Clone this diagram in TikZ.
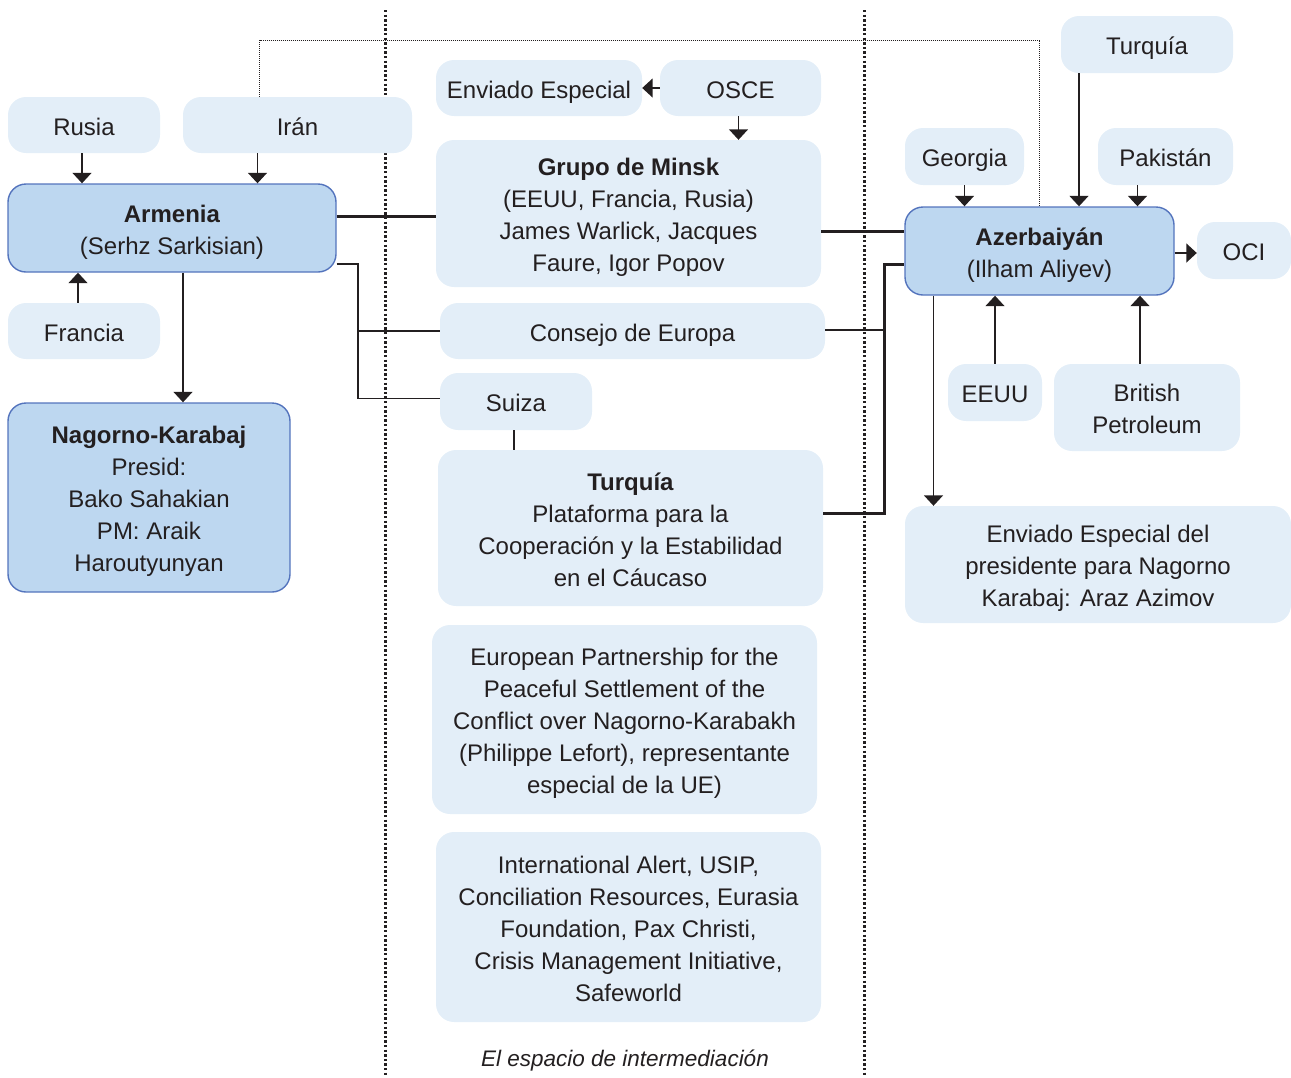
\documentclass[tikz,border=0pt]{standalone}
\usepackage{fontspec}
\setmainfont{Liberation Sans}
\usetikzlibrary{arrows.meta}
\definecolor{lightc}{RGB}{227,238,248}
\definecolor{bluec}{RGB}{189,215,240}
\definecolor{borderc}{RGB}{84,116,189}
\definecolor{textc}{RGB}{35,31,32}
\newcommand\bst{\rule[-7pt]{0pt}{34pt}}
\newcommand\est{\rule[-7pt]{0pt}{7pt}}
\tikzset{
  box/.style={fill=lightc, rounded corners=18pt, align=center, inner sep=0pt, text=textc, font=\fontsize{24}{32}\selectfont},
  bluebox/.style={box, fill=bluec, draw=borderc, line width=1.4pt},
  arr/.style={draw=textc, line width=1.5pt, -{Triangle[width=19pt,length=10.5pt]}},
  conn/.style={draw=textc, line width=1.5pt},
  thickconn/.style={draw=textc, line width=3pt},
  dotline/.style={draw=textc, line width=0.9pt, dash pattern=on 0.9pt off 1.1pt},
  sepline/.style={draw=textc, line width=3pt, dash pattern=on 2.4pt off 2.2pt},
}
\begin{document}
\begin{tikzpicture}[x=1pt,y=-1pt]
\useasboundingbox (0,0) rectangle (1291,1077);
% separators
\coordinate (s1t) at (385,10); \coordinate (s1b) at (385,1077);
\coordinate (s2t) at (864,10); \coordinate (s2b) at (864,1077);
\draw[sepline] (s1t) -- (s1b);
\draw[sepline] (s2t) -- (s2b);
% left
\node[box, minimum width=152pt, minimum height=56pt] (rusia) at (84,125) {\bst Rusia\est};
\node[box, minimum width=229pt, minimum height=56pt] (iran) at (297.5,125) {\bst Irán\est};
\node[bluebox, minimum width=328pt, minimum height=88pt] (armenia) at (172,228) {\bst\textbf{Armenia}\\(Serhz Sarkisian)\est};
\node[box, minimum width=152pt, minimum height=56pt] (francia) at (84,331) {\bst Francia\est};
\node[bluebox, minimum width=282pt, minimum height=189pt] (nk) at (149,497.5) {\bst\textbf{Nagorno-Karabaj}\\Presid:\\Bako Sahakian\\PM: Araik\\Haroutyunyan\est};
% middle
\node[box, minimum width=206pt, minimum height=56pt] (env) at (539,88) {\bst Enviado Especial\est};
\node[box, minimum width=161pt, minimum height=56pt] (osce) at (740.5,88) {\bst OSCE\est};
\node[box, minimum width=385pt, minimum height=147pt] (minsk) at (628.5,213.5) {\bst\textbf{Grupo de Minsk}\\(EEUU, Francia, Rusia)\\James Warlick, Jacques\\Faure, Igor Popov\est};
\node[box, minimum width=385pt, minimum height=56pt] (consejo) at (632.5,331) {\bst Consejo de Europa\est};
\node[box, minimum width=152pt, minimum height=57pt] (suiza) at (516,401.5) {\bst Suiza\est};
\node[box, minimum width=385pt, minimum height=156pt] (plat) at (630.5,528) {\bst\textbf{Turquía}\\Plataforma para la\\Cooperación y la Estabilidad\\en el Cáucaso\est};
\node[box, minimum width=385pt, minimum height=189pt] (epnk) at (624.5,719.5) {\bst European Partnership for the\\Peaceful Settlement of the\\Conflict over Nagorno-Karabakh\\(Philippe Lefort), representante\\especial de la UE)\est};
\node[box, minimum width=385pt, minimum height=190pt] (ia) at (628.5,927) {\bst International Alert, USIP,\\Conciliation Resources, Eurasia\\Foundation, Pax Christi,\\Crisis Management Initiative,\\Safeworld\est};
\node[text=textc, font=\fontsize{22.5}{28}\selectfont\itshape] (espacio) at (625,1061) {El espacio de intermediación};
% right
\node[box, minimum width=172pt, minimum height=57pt] (turq) at (1147,44.5) {\bst Turquía\est};
\node[box, minimum width=119pt, minimum height=57pt] (georgia) at (964.5,156.5) {\bst Georgia\est};
\node[box, minimum width=135pt, minimum height=57pt] (pak) at (1165.5,156.5) {\bst Pakistán\est};
\node[bluebox, minimum width=269pt, minimum height=88pt] (azer) at (1039.5,251) {\bst\textbf{Azerbaiyán}\\(Ilham Aliyev)\est};
\node[box, minimum width=94pt, minimum height=57pt] (oci) at (1244,250.5) {\bst OCI\est};
\node[box, minimum width=94pt, minimum height=57pt] (eeuu) at (995,392.5) {\bst EEUU\est};
\node[box, minimum width=186pt, minimum height=87pt] (bp) at (1147,407.5) {\bst British\\Petroleum\est};
\node[box, minimum width=386pt, minimum height=117pt] (envp) at (1098,564.5) {\bst Enviado Especial del\\presidente para Nagorno\\Karabaj: Araz Azimov\est};
% connectors left
\draw[arr] ([xshift=-2pt]rusia.south) -- ([xshift=-2pt]rusia.south |- armenia.north);
\draw[arr] ([xshift=-40pt]iran.south) -- ([xshift=-40pt]iran.south |- armenia.north);
\draw[arr] ([xshift=-6pt]francia.north) -- ([xshift=-6pt]francia.north |- armenia.south);
\draw[arr] ([xshift=11pt]armenia.south) -- ([xshift=11pt]armenia.south |- nk.north);
\draw[thickconn] ([yshift=12pt]armenia.east) -- ([yshift=12pt]armenia.east -| minsk.west);
\coordinate (jA) at (358,0);
\draw[conn] ([yshift=-36pt]armenia.east) -| ([yshift=3pt]jA |- suiza.west) -- ([yshift=3pt]suiza.west);
\draw[conn] (jA |- consejo.west) -- (consejo.west);
% middle
\draw[arr] (osce.west) -- (env.east);
\draw[arr] ([xshift=-2pt]osce.south) -- ([xshift=-2pt]osce.south |- minsk.north);
\draw[conn] ([xshift=-2pt]suiza.south) -- ([xshift=-2pt]suiza.south |- plat.north);
% right
\coordinate (jB) at (884,0);
\draw[thickconn] ([yshift=20pt]azer.west -| minsk.east) -- ([yshift=20pt]azer.west);
\draw[thickconn] ([yshift=15pt]plat.east) -| ([yshift=-13pt]jB |- azer.west) -- ([yshift=-13pt]azer.west);
\draw[conn] ([yshift=1pt]consejo.east) -- ([yshift=1pt]jB |- consejo.east);
\draw[arr] ([xshift=-68pt]turq.south) -- ([xshift=-68pt]turq.south |- azer.north);
\draw[arr] (georgia.south) -- (georgia.south |- azer.north);
\draw[arr] ([xshift=-28pt]pak.south) -- ([xshift=-28pt]pak.south |- azer.north);
\draw[arr] ([yshift=-2pt]azer.east) -- ([yshift=-2pt]azer.east -| oci.west);
\draw[arr] (eeuu.north) -- (eeuu.north |- azer.south);
\draw[arr] ([xshift=-7pt]bp.north) -- ([xshift=-7pt]bp.north |- azer.south);
\draw[arr] ([xshift=-106pt]azer.south) -- ([xshift=-106pt]azer.south |- envp.north);
% dotted link Iran - Azerbaiyan
\coordinate (topline) at (0,40);
\draw[dotline] ([xshift=-38pt]iran.north) |- (topline -| azer.north) -- (azer.north);
\end{tikzpicture}
\end{document}
